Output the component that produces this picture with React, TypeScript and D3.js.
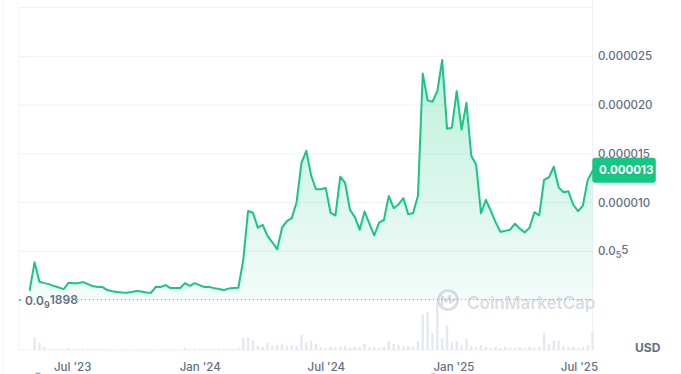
import React, { useEffect, useRef } from "react";
import * as d3 from "d3";

// weekly closes (in millionths of USD), first week starts 16 Apr 2023
const startDate = new Date(2023, 3, 16);
const prices: (number | null)[] = [
  0.00019, null, 1.02, 3.88, 1.87, 1.73, 1.63, 1.43, 1.28, 1.12,
  1.77, 1.73, 1.73, 1.84, 1.63, 1.43, 1.33, 1.33, 1.02, 0.89,
  0.82, 0.77, 0.74, 0.82, 0.92, 0.87, 0.77, 0.74, 1.36, 1.33,
  1.53, 1.22, 1.22, 1.22, 1.73, 1.46, 1.73, 1.53, 1.33, 1.33,
  1.22, 1.12, 1.02, 1.17, 1.22, 1.26, 4.08, 9.13, 8.95, 7.42,
  7.72, 6.58, 5.92, 5.2, 7.42, 8.09, 8.4, 10.03, 14.08, 15.31,
  12.76, 11.36, 11.36, 11.5, 8.95, 8.67, 12.65, 12.01, 9.26, 8.5,
  7.21, 9.08, 7.83, 6.63, 7.93, 8.23, 10.68, 9.42, 9.8, 10.46,
  8.81, 8.91, 10.66, 23.23, 20.48, 20.34, 21.43, 24.62, 17.58, 17.68,
  21.43, 17.48, 20.23, 14.8, 13.88, 8.91, 10.28, 9.18, 7.99, 7.01,
  7.09, 7.21, 7.83, 7.32, 6.94, 7.42, 9.01, 8.67, 12.32, 12.58,
  13.67, 11.56, 11.05, 11.15, 9.8, 9.11, 9.69, 12.32, 13.27,
];
// relative weekly volume
const volumes = [
  0, 0, 0, 12, 7, 3, 1, 1, 1, 1,
  2, 1, 1, 1, 1, 1, 1, 1, 1, 0.5,
  0.5, 0.5, 0.5, 0.5, 0.5, 0.5, 0.5, 0.5, 0.5, 0.5,
  0.5, 0.5, 0.5, 0.5, 2, 1, 1, 1, 1, 1,
  1, 1, 1, 1, 1, 2, 12, 12, 10, 4,
  3, 7, 4, 5, 6, 4, 5, 4, 15, 8,
  9, 6, 3, 2, 3, 3, 3, 4, 2, 3,
  3, 6, 3, 3, 2, 3, 9, 6, 5, 4,
  4, 3, 9, 35, 38, 17, 50, 12, 25, 8,
  9, 5, 11, 4, 3, 5, 3, 2, 3, 2,
  3, 2, 2, 3, 2, 3, 2, 3, 17, 6,
  9, 9, 4, 3, 3, 2, 3, 5, 18,
];
const yTicks = [5, 10, 15, 20, 25];
const xTicks = [
  new Date(2023, 6, 1),
  new Date(2024, 0, 1),
  new Date(2024, 6, 1),
  new Date(2025, 0, 1),
  new Date(2025, 6, 1),
];
const minLabel = ["0.0", "9", "1898"];
const lastLabel = "0.000013";

function App() {
  const svgRef = useRef<SVGSVGElement>(null);
  const W = 681;
  const H = 374;
  const left = 18.7;
  const right = 592.5;
  const top = 7.6;
  const bottom = 350;

  useEffect(() => {
    const svg = d3.select(svgRef.current);
    svg.selectAll("*").remove();
    const font = "Inter, 'Noto Sans', sans-serif";
    const textColor = "#616e85";

    const dates = prices.map((_, i) => d3.timeDay.offset(startDate, i * 7));
    const x = d3
      .scaleTime()
      .domain([dates[0], dates[dates.length - 1]])
      .range([20, 592.6]);
    const y = d3.scaleLinear().domain([0, 30]).range([300, top]);
    const yv = d3
      .scaleLinear()
      .domain([0, d3.max(volumes) as number])
      .range([bottom, 300]);

    // page edge line
    svg.append("line").attr("x1", 3).attr("x2", 3).attr("y1", 0).attr("y2", H)
      .attr("stroke", "#f2f3f5");

    // grid
    svg.append("g")
      .selectAll("line")
      .data([...yTicks, 30])
      .enter()
      .append("line")
      .attr("x1", left)
      .attr("x2", right)
      .attr("y1", (d) => y(d))
      .attr("y2", (d) => y(d))
      .attr("stroke", "#eff2f5");
    svg.append("line").attr("x1", left).attr("x2", left).attr("y1", top).attr("y2", bottom)
      .attr("stroke", "#eff2f5");
    svg.append("line").attr("x1", right).attr("x2", right).attr("y1", 0).attr("y2", bottom)
      .attr("stroke", "#eff2f5");
    svg.append("line").attr("x1", left).attr("x2", right).attr("y1", bottom).attr("y2", bottom)
      .attr("stroke", "#eff2f5");

    // volume bars
    svg.append("g")
      .selectAll("rect")
      .data(volumes)
      .enter()
      .append("rect")
      .attr("x", (_, i) => x(dates[i]) - 1.2)
      .attr("width", 2.4)
      .attr("y", (d) => yv(d))
      .attr("height", (d) => bottom - yv(d))
      .attr("fill", "#e4e8ef");

    // watermark
    const wm = svg.append("g").attr("opacity", 0.85);
    wm.append("circle").attr("cx", 448).attr("cy", 300).attr("r", 9.5)
      .attr("fill", "none").attr("stroke", "#d3d9e2").attr("stroke-width", 2.6);
    wm.append("path")
      .attr("d", "M442,305 L442,296 L446,302 L450,296 L450,303 L455,299")
      .attr("fill", "none").attr("stroke", "#d3d9e2").attr("stroke-width", 2.2)
      .attr("stroke-linejoin", "round").attr("stroke-linecap", "round");
    wm.append("text").attr("x", 467).attr("y", 303).attr("dy", "0.35em")
      .attr("font-family", font).attr("font-size", 17).attr("font-weight", 600)
      .attr("fill", "#d3d9e2").text("CoinMarketCap");

    // area + line
    const grad = svg.append("defs").append("linearGradient")
      .attr("id", "g1").attr("x1", 0).attr("x2", 0).attr("y1", 0).attr("y2", 1);
    grad.append("stop").attr("offset", "0%").attr("stop-color", "#16c784").attr("stop-opacity", 0.28);
    grad.append("stop").attr("offset", "100%").attr("stop-color", "#16c784").attr("stop-opacity", 0.05);

    const defined = (d: number | null) => d !== null;
    const area = d3.area<number | null>()
      .defined(defined)
      .x((_, i) => x(dates[i]))
      .y0(300)
      .y1((d) => y(d as number));
    const line = d3.line<number | null>()
      .defined(defined)
      .x((_, i) => x(dates[i]))
      .y((d) => y(d as number));

    svg.append("path").datum(prices).attr("d", area(prices) as string)
      .attr("fill", "url(#g1)");

    // min dotted line
    const minVal = d3.min(prices.filter(defined) as number[]) as number;
    svg.append("line").attr("x1", 77).attr("x2", right)
      .attr("y1", y(minVal) - 0.5).attr("y2", y(minVal) - 0.5)
      .attr("stroke", "#8f97a8").attr("stroke-dasharray", "1,3");
    const ml = svg.append("text").attr("x", 25).attr("y", y(minVal) + 1)
      .attr("dy", "0.35em").attr("font-family", font).attr("font-size", 12)
      .attr("font-weight", 600).attr("fill", textColor);
    ml.append("tspan").text(minLabel[0]);
    ml.append("tspan").attr("font-size", 9).attr("dy", "0.3em").text(minLabel[1]);
    ml.append("tspan").attr("dy", "-0.3em").text(minLabel[2]);

    svg.append("path").attr("d", line(prices) as string)
      .attr("fill", "none").attr("stroke", "#16c784").attr("stroke-width", 2)
      .attr("stroke-linejoin", "round").attr("stroke-linecap", "round");

    // y labels
    const yl = svg.append("g")
      .selectAll("text")
      .data(yTicks)
      .enter()
      .append("text")
      .attr("x", 598)
      .attr("y", (d) => y(d))
      .attr("dy", "0.35em")
      .attr("font-family", font)
      .attr("font-size", 11.5)
      .attr("font-weight", 500)
      .attr("fill", textColor);
    yl.each(function (d) {
      const t = d3.select(this);
      if (d === 5) {
        t.append("tspan").text("0.0");
        t.append("tspan").attr("font-size", 9).attr("dy", "0.35em").text("5");
        t.append("tspan").attr("dy", "-0.35em").text("5");
      } else {
        t.text((d / 1e6).toFixed(6));
      }
    });

    // last price tag
    const last = prices[prices.length - 1] as number;
    svg.append("rect").attr("x", 592.3).attr("y", y(last) - 13).attr("width", 63.5)
      .attr("height", 25).attr("rx", 3).attr("fill", "#16c784");
    svg.append("text").attr("x", 599).attr("y", y(last) - 0.5).attr("dy", "0.35em")
      .attr("font-family", font).attr("font-size", 11.5).attr("font-weight", 700)
      .attr("fill", "#ffffff").text(lastLabel);

    // x labels
    svg.append("g")
      .selectAll("text")
      .data(xTicks)
      .enter()
      .append("text")
      .attr("x", (d) => x(d))
      .attr("y", 366.5)
      .attr("dy", "0.35em")
      .attr("text-anchor", "middle")
      .attr("font-family", font)
      .attr("font-size", 11.5)
      .attr("font-weight", 500)
      .attr("fill", textColor)
      .text((d) => d3.timeFormat("%b '%y")(d));

    svg.append("text").attr("x", 635).attr("y", 348).attr("dy", "0.35em")
      .attr("font-family", font).attr("font-size", 12).attr("font-weight", 700)
      .attr("fill", textColor).text("USD");

    // event markers cut off at bottom
    svg.append("circle").attr("cx", 38).attr("cy", 376).attr("r", 3.5).attr("fill", "#3861fb").attr("opacity", 0.6);
    svg.append("circle").attr("cx", 433).attr("cy", 377).attr("r", 4).attr("fill", "#f7931a").attr("opacity", 0.6);
  }, []);

  return (
    <svg
      ref={svgRef}
      width={W}
      height={H}
      style={{ position: "absolute", left: 0, top: 0, background: "#fff" }}
    ></svg>
  );
}

export default App;
